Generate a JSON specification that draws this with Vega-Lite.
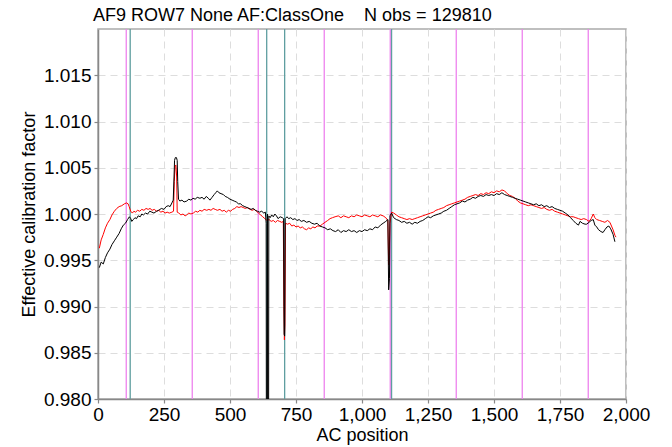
{
  "$schema": "https://vega.github.io/schema/vega-lite/v6.json",
  "autosize": "none",
  "width": 528,
  "height": 370,
  "padding": {"left": 98, "top": 29, "right": 46, "bottom": 48},
  "background": "white",
  "config": {
    "font": "Liberation Sans",
    "view": {"stroke": "#aaaaaa", "strokeWidth": 1.5},
    "axis": {
      "labelFont": "Liberation Sans", "titleFont": "Liberation Sans",
      "labelFontSize": 19, "titleFontSize": 18, "labelColor": "#000", "titleColor": "#000",
      "titleFontWeight": "normal", "domainColor": "#888888", "domainWidth": 1.5,
      "tickColor": "#888888", "tickSize": 4, "tickWidth": 1.2, "labelOverlap": false, "labelFlush": false,
      "gridColor": "#dddddd", "gridDash": [7, 5], "gridWidth": 1
    }
  },
  "title": {
    "text": "AF9 ROW7 None AF:ClassOne\u00a0\u00a0\u00a0\u00a0N obs = 129810",
    "anchor": "start", "frame": "group", "dx": -5, "offset": 3,
    "font": "Liberation Sans", "fontSize": 18, "fontWeight": "normal", "color": "#000"
  },
  "layer": [
    {
      "data": {"values": [
        {"ac": 107, "kind": "m"}, {"ac": 357, "kind": "m"}, {"ac": 607, "kind": "m"}, {"ac": 857, "kind": "m"},
        {"ac": 1107, "kind": "m"}, {"ac": 1357, "kind": "m"}, {"ac": 1607, "kind": "m"}, {"ac": 1857, "kind": "m"},
        {"ac": 122, "kind": "t"}, {"ac": 639, "kind": "t"}, {"ac": 707, "kind": "t"}, {"ac": 1112, "kind": "t"}
      ]},
      "mark": {"type": "rule", "strokeWidth": 1.3},
      "encoding": {
        "x": {"field": "ac", "type": "quantitative"},
        "color": {"field": "kind", "type": "nominal", "scale": {"domain": ["m", "t"], "range": ["#ee82ee", "#5f9ea0"]}, "legend": null}
      }
    },
    {
      "data": {"values": [
        {"ac":5,"value":0.9963},{"ac":12,"value":0.9972},{"ac":20,"value":0.9978},{"ac":28,"value":0.9985},{"ac":36,"value":0.999},{"ac":45,"value":0.9994},{"ac":53,"value":0.9999},{"ac":62,"value":1.0003},{"ac":71,"value":1.0006},{"ac":80,"value":1.0008},
        {"ac":90,"value":1.0009},{"ac":100,"value":1.0011},{"ac":108,"value":1.0012},{"ac":114,"value":1.0011},{"ac":118,"value":1.0008},{"ac":124,"value":1.0003},{"ac":130,"value":1.0001},{"ac":136,"value":1.0003},{"ac":142,"value":1.0002},{"ac":150,"value":1.0004},
        {"ac":158,"value":1.0003},{"ac":166,"value":1.0005},{"ac":174,"value":1.0004},{"ac":182,"value":1.0006},{"ac":190,"value":1.0005},{"ac":197,"value":1.0006},{"ac":205,"value":1.0004},{"ac":213,"value":1.0005},{"ac":222,"value":1.0003},{"ac":230,"value":1.0004},
        {"ac":238,"value":1.0002},{"ac":246,"value":1.0003},{"ac":254,"value":1.0001},{"ac":262,"value":1.0002},{"ac":270,"value":1.0001},{"ac":280,"value":1.0002},{"ac":286,"value":1.0003},{"ac":289,"value":1.0035},{"ac":292,"value":1.0052},{"ac":295,"value":1.0053},
        {"ac":298,"value":1.004},{"ac":300,"value":1.0002},{"ac":306,"value":1.0001},{"ac":314,"value":0.9999},{"ac":322,"value":1.0},{"ac":330,"value":0.9998},{"ac":336,"value":0.9999},{"ac":344,"value":1.0001},{"ac":352,"value":1.0},{"ac":361,"value":1.0001},
        {"ac":370,"value":1.0003},{"ac":378,"value":1.0002},{"ac":386,"value":1.0004},{"ac":394,"value":1.0003},{"ac":402,"value":1.0005},{"ac":412,"value":1.0004},{"ac":420,"value":1.0005},{"ac":428,"value":1.0004},{"ac":436,"value":1.0006},{"ac":444,"value":1.0005},
        {"ac":452,"value":1.0004},{"ac":462,"value":1.0005},{"ac":470,"value":1.0003},{"ac":478,"value":1.0004},{"ac":486,"value":1.0002},{"ac":494,"value":1.0004},{"ac":502,"value":1.0003},{"ac":510,"value":1.0005},{"ac":518,"value":1.0006},{"ac":526,"value":1.0008},
        {"ac":534,"value":1.0007},{"ac":542,"value":1.0008},{"ac":550,"value":1.0007},{"ac":558,"value":1.0006},{"ac":566,"value":1.0007},{"ac":576,"value":1.0005},{"ac":584,"value":1.0004},{"ac":592,"value":1.0005},{"ac":600,"value":1.0003},{"ac":608,"value":1.0001},
        {"ac":616,"value":0.9999},{"ac":624,"value":0.9997},{"ac":632,"value":0.9995},{"ac":640,"value":0.9993},{"ac":648,"value":0.9994},{"ac":656,"value":0.9992},{"ac":664,"value":0.9993},{"ac":672,"value":0.9991},{"ac":680,"value":0.9993},{"ac":688,"value":0.9992},
        {"ac":696,"value":0.9991},{"ac":702,"value":0.9992},{"ac":704,"value":0.99},{"ac":706,"value":0.9864},{"ac":708,"value":0.988},{"ac":710,"value":0.999},{"ac":718,"value":0.9989},{"ac":726,"value":0.999},{"ac":734,"value":0.9987},{"ac":742,"value":0.9988},
        {"ac":750,"value":0.9986},{"ac":758,"value":0.9987},{"ac":766,"value":0.9985},{"ac":774,"value":0.9986},{"ac":782,"value":0.9984},{"ac":790,"value":0.9983},{"ac":798,"value":0.9985},{"ac":806,"value":0.9984},{"ac":814,"value":0.9986},{"ac":822,"value":0.9985},
        {"ac":830,"value":0.9987},{"ac":841,"value":0.9987},{"ac":850,"value":0.9989},{"ac":860,"value":0.9991},{"ac":870,"value":0.9993},{"ac":879,"value":0.9995},{"ac":888,"value":0.9996},{"ac":898,"value":0.9997},{"ac":910,"value":0.9998},{"ac":920,"value":0.9996},
        {"ac":930,"value":0.9998},{"ac":940,"value":0.9997},{"ac":950,"value":0.9996},{"ac":960,"value":0.9998},{"ac":970,"value":0.9997},{"ac":980,"value":0.9999},{"ac":990,"value":0.9998},{"ac":1000,"value":0.9997},{"ac":1010,"value":0.9999},{"ac":1020,"value":0.9998},
        {"ac":1030,"value":0.9997},{"ac":1040,"value":0.9999},{"ac":1050,"value":0.9998},{"ac":1060,"value":0.9997},{"ac":1070,"value":0.9999},{"ac":1080,"value":0.9998},{"ac":1090,"value":0.9996},{"ac":1098,"value":0.9993},{"ac":1101,"value":0.9945},{"ac":1103,"value":0.9955},
        {"ac":1106,"value":0.999},{"ac":1112,"value":1.0002},{"ac":1120,"value":1.0001},{"ac":1130,"value":0.9999},{"ac":1140,"value":0.9997},{"ac":1150,"value":0.9996},{"ac":1160,"value":0.9995},{"ac":1170,"value":0.9994},{"ac":1180,"value":0.9995},{"ac":1190,"value":0.9994},
        {"ac":1200,"value":0.9995},{"ac":1210,"value":0.9996},{"ac":1220,"value":0.9997},{"ac":1230,"value":0.9998},{"ac":1240,"value":0.9999},{"ac":1250,"value":1.0},{"ac":1260,"value":1.0001},{"ac":1270,"value":1.0002},{"ac":1280,"value":1.0004},{"ac":1290,"value":1.0005},
        {"ac":1300,"value":1.0006},{"ac":1310,"value":1.0007},{"ac":1320,"value":1.0009},{"ac":1330,"value":1.001},{"ac":1340,"value":1.0011},{"ac":1350,"value":1.0012},{"ac":1360,"value":1.0013},{"ac":1370,"value":1.0014},{"ac":1380,"value":1.0015},{"ac":1390,"value":1.0016},
        {"ac":1400,"value":1.0018},{"ac":1410,"value":1.0019},{"ac":1420,"value":1.002},{"ac":1430,"value":1.0021},{"ac":1440,"value":1.002},{"ac":1450,"value":1.0022},{"ac":1460,"value":1.0021},{"ac":1470,"value":1.0023},{"ac":1480,"value":1.0022},{"ac":1490,"value":1.0024},
        {"ac":1500,"value":1.0023},{"ac":1510,"value":1.0025},{"ac":1520,"value":1.0024},{"ac":1530,"value":1.0026},{"ac":1540,"value":1.0025},{"ac":1550,"value":1.0022},{"ac":1560,"value":1.002},{"ac":1570,"value":1.0019},{"ac":1580,"value":1.0017},{"ac":1590,"value":1.0014},
        {"ac":1600,"value":1.0012},{"ac":1610,"value":1.0011},{"ac":1620,"value":1.001},{"ac":1630,"value":1.0009},{"ac":1640,"value":1.001},{"ac":1650,"value":1.0009},{"ac":1660,"value":1.0008},{"ac":1670,"value":1.0007},{"ac":1680,"value":1.0006},{"ac":1690,"value":1.0007},
        {"ac":1700,"value":1.0005},{"ac":1710,"value":1.0004},{"ac":1720,"value":1.0005},{"ac":1730,"value":1.0003},{"ac":1740,"value":1.0002},{"ac":1750,"value":1.0001},{"ac":1760,"value":1.0},{"ac":1770,"value":0.9999},{"ac":1780,"value":0.9998},{"ac":1790,"value":0.9997},
        {"ac":1800,"value":0.9997},{"ac":1810,"value":0.9996},{"ac":1820,"value":0.9995},{"ac":1830,"value":0.9994},{"ac":1840,"value":0.9995},{"ac":1850,"value":0.9994},{"ac":1860,"value":0.9992},{"ac":1868,"value":0.9995},{"ac":1876,"value":1.0},{"ac":1882,"value":0.9996},
        {"ac":1889,"value":0.9994},{"ac":1900,"value":0.9993},{"ac":1910,"value":0.9992},{"ac":1920,"value":0.9991},{"ac":1930,"value":0.9993},{"ac":1939,"value":0.9991},{"ac":1945,"value":0.9987},{"ac":1951,"value":0.9983},{"ac":1958,"value":0.9977},{"ac":1962,"value":0.9975}
      ]},
      "mark": {"type": "line", "color": "#ff0000", "strokeWidth": 1, "clip": true},
      "encoding": {
        "x": {"field": "ac", "type": "quantitative"},
        "y": {"field": "value", "type": "quantitative"}
      }
    },
    {
      "data": {"values": [
        {"ac":5,"value":0.9942},{"ac":12,"value":0.9948},{"ac":20,"value":0.9946},{"ac":28,"value":0.9953},{"ac":36,"value":0.9958},{"ac":45,"value":0.9962},{"ac":53,"value":0.9967},{"ac":62,"value":0.9971},{"ac":71,"value":0.9975},{"ac":80,"value":0.9979},
        {"ac":88,"value":0.9984},{"ac":96,"value":0.9988},{"ac":104,"value":0.999},{"ac":112,"value":0.9994},{"ac":119,"value":0.9997},{"ac":124,"value":0.9995},{"ac":128,"value":0.9992},{"ac":134,"value":0.9994},{"ac":140,"value":0.9996},{"ac":146,"value":0.9995},
        {"ac":152,"value":0.9998},{"ac":160,"value":0.9997},{"ac":166,"value":1.0},{"ac":172,"value":0.9999},{"ac":180,"value":1.0001},{"ac":188,"value":1.0},{"ac":196,"value":1.0003},{"ac":204,"value":1.0002},{"ac":212,"value":1.0001},{"ac":222,"value":1.0003},
        {"ac":230,"value":1.0004},{"ac":240,"value":1.0006},{"ac":250,"value":1.0005},{"ac":258,"value":1.0008},{"ac":266,"value":1.0009},{"ac":273,"value":1.0008},{"ac":280,"value":1.0012},{"ac":285,"value":1.0015},{"ac":288,"value":1.004},{"ac":290,"value":1.0058},
        {"ac":293,"value":1.0061},{"ac":297,"value":1.0061},{"ac":300,"value":1.0058},{"ac":302,"value":1.0035},{"ac":305,"value":1.0016},{"ac":310,"value":1.0014},{"ac":318,"value":1.0015},{"ac":326,"value":1.0013},{"ac":336,"value":1.0014},{"ac":344,"value":1.0016},
        {"ac":352,"value":1.0015},{"ac":360,"value":1.0017},{"ac":368,"value":1.0016},{"ac":376,"value":1.0018},{"ac":386,"value":1.0017},{"ac":394,"value":1.0018},{"ac":402,"value":1.0016},{"ac":410,"value":1.0019},{"ac":418,"value":1.0017},{"ac":424,"value":1.0015},
        {"ac":432,"value":1.0018},{"ac":440,"value":1.0021},{"ac":446,"value":1.0023},{"ac":452,"value":1.0025},{"ac":458,"value":1.0023},{"ac":466,"value":1.0022},{"ac":475,"value":1.0021},{"ac":482,"value":1.0019},{"ac":490,"value":1.0018},{"ac":500,"value":1.0016},
        {"ac":508,"value":1.0015},{"ac":516,"value":1.0014},{"ac":524,"value":1.0013},{"ac":532,"value":1.0011},{"ac":540,"value":1.0011},{"ac":548,"value":1.0009},{"ac":556,"value":1.0008},{"ac":564,"value":1.0007},{"ac":572,"value":1.0006},{"ac":580,"value":1.0005},
        {"ac":588,"value":1.0006},{"ac":596,"value":1.0004},{"ac":604,"value":1.0003},{"ac":612,"value":1.0002},{"ac":620,"value":1.0003},{"ac":628,"value":1.0001},{"ac":634,"value":1.0002},{"ac":637,"value":0.999},{"ac":638,"value":0.97},{"ac":641,"value":0.97},
        {"ac":642,"value":1.0},{"ac":644,"value":0.97},{"ac":646,"value":0.97},{"ac":647,"value":0.9998},{"ac":652,"value":0.9996},{"ac":658,"value":0.9999},{"ac":664,"value":0.9997},{"ac":670,"value":1.0},{"ac":676,"value":0.9998},{"ac":682,"value":0.9995},
        {"ac":690,"value":0.9997},{"ac":698,"value":0.9996},{"ac":703,"value":0.9995},{"ac":705,"value":0.987},{"ac":707,"value":0.9868},{"ac":709,"value":0.9995},{"ac":716,"value":0.9997},{"ac":722,"value":0.9995},{"ac":730,"value":0.9996},{"ac":738,"value":0.9994},
        {"ac":746,"value":0.9995},{"ac":754,"value":0.9993},{"ac":762,"value":0.9994},{"ac":770,"value":0.9992},{"ac":780,"value":0.9993},{"ac":790,"value":0.9991},{"ac":800,"value":0.9992},{"ac":810,"value":0.999},{"ac":820,"value":0.9989},{"ac":830,"value":0.999},
        {"ac":840,"value":0.9987},{"ac":850,"value":0.9986},{"ac":860,"value":0.9985},{"ac":870,"value":0.9983},{"ac":880,"value":0.9984},{"ac":890,"value":0.9982},{"ac":900,"value":0.9981},{"ac":910,"value":0.9983},{"ac":920,"value":0.998},{"ac":930,"value":0.9982},
        {"ac":940,"value":0.9981},{"ac":950,"value":0.9983},{"ac":960,"value":0.9981},{"ac":970,"value":0.9982},{"ac":980,"value":0.998},{"ac":990,"value":0.9982},{"ac":1000,"value":0.9981},{"ac":1010,"value":0.9983},{"ac":1020,"value":0.9982},{"ac":1030,"value":0.9984},
        {"ac":1040,"value":0.9983},{"ac":1050,"value":0.9986},{"ac":1060,"value":0.9985},{"ac":1070,"value":0.9988},{"ac":1080,"value":0.999},{"ac":1090,"value":0.9992},{"ac":1098,"value":0.9994},{"ac":1101,"value":0.9918},{"ac":1104,"value":0.993},{"ac":1106,"value":0.9998},
        {"ac":1112,"value":1.0001},{"ac":1120,"value":0.9996},{"ac":1130,"value":0.9994},{"ac":1140,"value":0.9993},{"ac":1150,"value":0.9991},{"ac":1160,"value":0.9992},{"ac":1170,"value":0.999},{"ac":1180,"value":0.9991},{"ac":1190,"value":0.9989},{"ac":1200,"value":0.9991},
        {"ac":1210,"value":0.999},{"ac":1220,"value":0.9992},{"ac":1230,"value":0.9993},{"ac":1240,"value":0.9995},{"ac":1250,"value":0.9997},{"ac":1260,"value":0.9996},{"ac":1270,"value":0.9998},{"ac":1280,"value":0.9999},{"ac":1290,"value":1.0},{"ac":1300,"value":1.0001},
        {"ac":1310,"value":1.0003},{"ac":1320,"value":1.0004},{"ac":1330,"value":1.0006},{"ac":1340,"value":1.0008},{"ac":1350,"value":1.001},{"ac":1360,"value":1.0011},{"ac":1370,"value":1.0012},{"ac":1380,"value":1.0014},{"ac":1390,"value":1.0013},{"ac":1400,"value":1.0015},
        {"ac":1410,"value":1.0016},{"ac":1420,"value":1.0018},{"ac":1430,"value":1.0017},{"ac":1440,"value":1.0019},{"ac":1450,"value":1.002},{"ac":1460,"value":1.0019},{"ac":1470,"value":1.0021},{"ac":1480,"value":1.002},{"ac":1490,"value":1.0021},{"ac":1500,"value":1.002},
        {"ac":1510,"value":1.0022},{"ac":1520,"value":1.0021},{"ac":1530,"value":1.0023},{"ac":1540,"value":1.0021},{"ac":1550,"value":1.002},{"ac":1560,"value":1.0019},{"ac":1570,"value":1.0018},{"ac":1580,"value":1.0017},{"ac":1590,"value":1.0016},{"ac":1600,"value":1.0015},
        {"ac":1610,"value":1.0014},{"ac":1620,"value":1.0013},{"ac":1630,"value":1.0012},{"ac":1640,"value":1.0011},{"ac":1650,"value":1.001},{"ac":1660,"value":1.0011},{"ac":1670,"value":1.0009},{"ac":1680,"value":1.001},{"ac":1690,"value":1.0008},{"ac":1700,"value":1.0009},
        {"ac":1710,"value":1.0007},{"ac":1720,"value":1.0008},{"ac":1730,"value":1.0006},{"ac":1740,"value":1.0005},{"ac":1750,"value":1.0004},{"ac":1760,"value":1.0003},{"ac":1770,"value":1.0001},{"ac":1780,"value":0.9999},{"ac":1790,"value":0.9996},{"ac":1800,"value":0.9993},
        {"ac":1810,"value":0.999},{"ac":1820,"value":0.9988},{"ac":1826,"value":0.9992},{"ac":1835,"value":0.999},{"ac":1845,"value":0.9989},{"ac":1851,"value":0.9989},{"ac":1860,"value":0.9991},{"ac":1868,"value":0.9993},{"ac":1876,"value":0.9994},{"ac":1882,"value":0.9988},
        {"ac":1889,"value":0.9986},{"ac":1896,"value":0.9983},{"ac":1905,"value":0.9981},{"ac":1913,"value":0.998},{"ac":1920,"value":0.9983},{"ac":1928,"value":0.9986},{"ac":1935,"value":0.9987},{"ac":1942,"value":0.9984},{"ac":1951,"value":0.9978},{"ac":1958,"value":0.997}
      ]},
      "mark": {"type": "line", "color": "#000000", "strokeWidth": 1, "clip": true},
      "encoding": {
        "x": {"field": "ac", "type": "quantitative", "title": "AC position",
          "scale": {"domain": [0, 2000], "nice": false, "zero": false},
          "axis": {"values": [0, 250, 500, 750, 1000, 1250, 1500, 1750, 2000], "format": ",d", "titlePadding": 2, "labelPadding": 2}},
        "y": {"field": "value", "type": "quantitative", "title": "Effective calibration factor",
          "scale": {"domain": [0.98, 1.02], "nice": false, "zero": false},
          "axis": {"values": [0.98, 0.985, 0.99, 0.995, 1.0, 1.005, 1.01, 1.015], "format": ".3f", "titlePadding": 5, "labelPadding": 3}}
      }
    }
  ]
}
